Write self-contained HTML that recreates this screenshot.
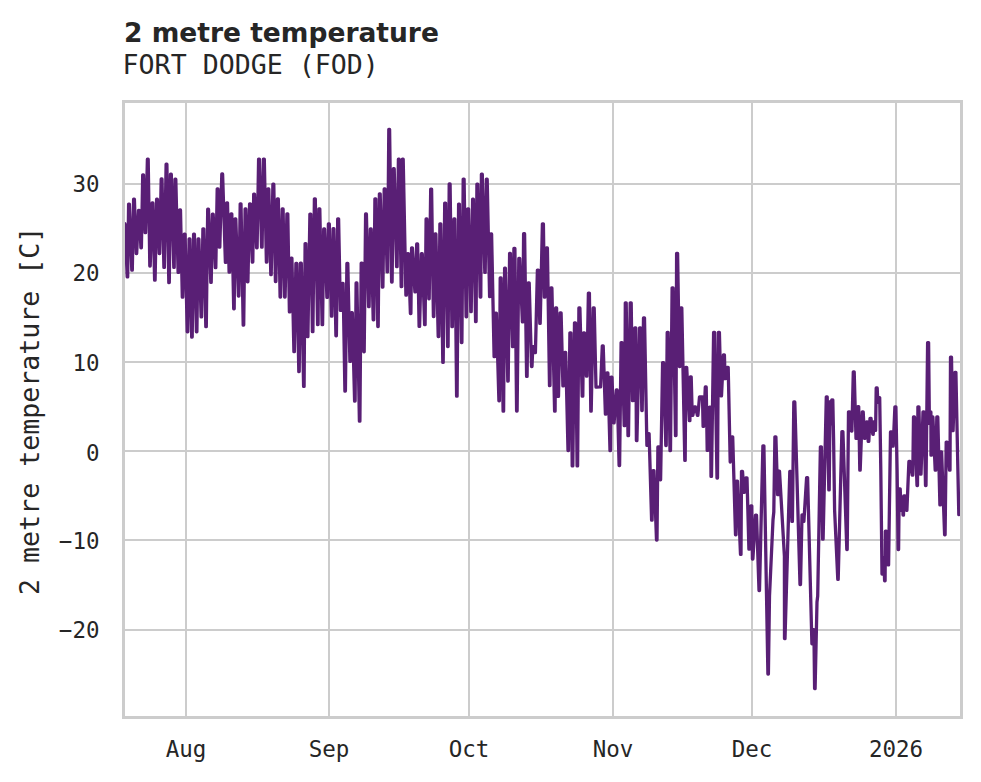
<!DOCTYPE html>
<html lang="en"><head><meta charset="utf-8"><title>2 metre temperature - FORT DODGE (FOD)</title>
<style>
html,body{margin:0;padding:0;background:#fff;}
body{width:981px;height:782px;overflow:hidden;}
svg{display:block;}
</style></head><body>
<svg width="981" height="782" viewBox="0 0 981 782">
<rect width="981" height="782" fill="#ffffff"/>
<g stroke="#cccccc" stroke-width="2" stroke-linecap="butt" fill="none">
<line x1="186.0" y1="101.5" x2="186.0" y2="717.5"/>
<line x1="329.0" y1="101.5" x2="329.0" y2="717.5"/>
<line x1="469.0" y1="101.5" x2="469.0" y2="717.5"/>
<line x1="613.0" y1="101.5" x2="613.0" y2="717.5"/>
<line x1="752.0" y1="101.5" x2="752.0" y2="717.5"/>
<line x1="896.0" y1="101.5" x2="896.0" y2="717.5"/>
<line x1="123.5" y1="184.0" x2="961.5" y2="184.0"/>
<line x1="123.5" y1="273.0" x2="961.5" y2="273.0"/>
<line x1="123.5" y1="362.0" x2="961.5" y2="362.0"/>
<line x1="123.5" y1="451.0" x2="961.5" y2="451.0"/>
<line x1="123.5" y1="540.0" x2="961.5" y2="540.0"/>
<line x1="123.5" y1="630.0" x2="961.5" y2="630.0"/>
</g>
<clipPath id="c"><rect x="123.5" y="101.5" width="838.0" height="616.0"/></clipPath>
<polyline clip-path="url(#c)" points="123.5,240.0 124.1,223.7 125.0,223.7 127.2,276.9 127.7,276.9 128.6,204.1 129.4,204.1 131.8,270.1 132.3,270.1 133.6,199.2 134.4,199.2 136.2,253.5 136.7,253.5 138.5,210.3 139.3,210.3 140.9,247.8 141.4,247.8 142.7,174.8 143.5,174.8 145.1,232.7 145.6,232.7 147.4,159.2 148.2,159.2 149.8,266.0 150.2,266.0 152.1,203.0 152.9,203.0 154.6,280.1 155.1,280.1 156.6,199.2 157.4,199.2 159.2,253.5 159.7,253.5 161.2,179.0 162.0,179.0 163.9,267.4 164.4,267.4 166.1,164.2 166.9,164.2 168.8,282.6 169.3,282.6 170.5,174.2 171.3,174.2 173.8,267.4 174.2,267.4 175.0,179.2 175.8,179.2 178.1,272.4 178.6,272.4 179.7,210.0 180.5,210.0 182.3,297.2 182.8,297.2 184.2,234.2 185.1,234.2 187.2,331.8 187.8,331.8 189.1,239.0 189.9,239.0 191.7,337.1 192.2,337.1 193.6,234.2 194.4,234.2 196.4,331.8 196.9,331.8 198.1,239.0 198.9,239.0 201.1,316.9 201.6,316.9 202.9,228.8 203.8,228.8 205.8,326.7 206.3,326.7 207.7,209.2 208.5,209.2 210.8,282.4 211.2,282.4 212.4,214.2 213.2,214.2 215.3,267.6 215.8,267.6 217.2,188.8 218.0,188.8 219.3,247.2 219.8,247.2 221.8,174.0 222.6,174.0 225.4,262.4 225.9,262.4 226.7,202.8 227.5,202.8 229.1,272.1 229.6,272.1 231.0,213.8 231.8,213.8 233.7,308.8 234.2,308.8 235.0,219.0 235.8,219.0 238.4,296.0 238.9,296.0 240.2,203.8 241.0,203.8 243.2,325.1 243.7,325.1 245.1,209.0 245.9,209.0 247.4,281.8 247.9,281.8 249.6,203.8 250.4,203.8 252.3,262.1 252.8,262.1 253.7,194.1 254.5,194.1 256.6,247.8 257.1,247.8 258.6,159.1 259.4,159.1 261.6,247.2 262.1,247.2 263.4,159.1 264.3,159.1 266.4,262.1 266.9,262.1 267.9,189.0 268.8,189.0 270.8,274.7 271.2,274.7 272.9,184.2 273.8,184.2 275.4,281.5 275.9,281.5 277.4,198.8 278.3,198.8 280.1,297.0 280.6,297.0 282.2,209.0 283.1,209.0 284.6,297.0 285.1,297.0 286.9,213.8 287.8,213.8 289.4,311.9 289.9,311.9 291.1,258.1 291.9,258.1 293.9,351.6 294.4,351.6 295.9,263.5 296.8,263.5 298.8,371.6 299.2,371.6 300.4,263.2 301.3,263.2 303.6,386.4 304.1,386.4 305.1,243.6 305.9,243.6 307.4,336.6 307.9,336.6 309.9,214.1 310.8,214.1 312.4,331.7 312.9,331.7 314.4,198.8 315.3,198.8 317.6,324.6 318.1,324.6 318.9,208.8 319.8,208.8 322.1,324.7 322.6,324.7 323.7,229.0 324.6,229.0 326.9,297.4 327.4,297.4 328.4,223.8 329.3,223.8 331.4,316.2 331.9,316.2 333.1,228.7 333.9,228.7 335.9,335.8 336.4,335.8 337.7,218.8 338.6,218.8 340.4,310.4 340.9,310.4 342.2,283.4 343.1,283.4 344.9,391.1 345.4,391.1 346.9,263.4 347.8,263.4 349.9,361.4 350.4,361.4 351.4,312.6 352.3,312.6 354.6,401.1 355.1,401.1 356.1,283.0 356.9,283.0 359.4,421.2 359.9,421.2 361.2,263.2 362.1,263.2 363.8,351.8 364.2,351.8 365.6,214.0 366.4,214.0 368.6,306.6 369.1,306.6 370.4,229.0 371.2,229.0 373.2,319.8 373.8,319.8 374.9,198.8 375.8,198.8 377.8,326.5 378.2,326.5 379.4,193.8 380.2,193.8 382.4,287.1 382.9,287.1 384.2,189.0 385.1,189.0 387.1,271.8 387.6,271.8 388.8,129.3 389.6,129.3 391.6,282.0 392.1,282.0 393.4,168.7 394.2,168.7 396.6,266.7 397.1,266.7 398.4,159.2 399.2,159.2 401.2,286.6 401.8,286.6 402.4,159.2 403.2,159.2 405.9,295.2 406.4,295.2 407.6,253.6 408.4,253.6 410.4,313.5 410.9,313.5 411.6,247.8 412.4,247.8 414.9,291.9 415.4,291.9 416.7,244.0 417.6,244.0 419.1,326.4 419.6,326.4 421.4,253.7 422.3,253.7 424.6,324.7 425.1,324.7 426.1,219.0 426.9,219.0 428.8,298.8 429.2,298.8 430.7,189.1 431.6,189.1 433.4,316.5 433.9,316.5 435.1,234.0 435.9,234.0 438.2,336.5 438.8,336.5 439.9,223.8 440.8,223.8 442.8,362.4 443.2,362.4 444.7,203.1 445.6,203.1 447.6,346.5 448.1,346.5 449.2,184.0 450.1,184.0 451.9,326.7 452.4,326.7 453.9,219.0 454.8,219.0 456.6,396.2 457.1,396.2 458.6,204.1 459.4,204.1 461.4,342.6 461.9,342.6 463.2,179.1 464.1,179.1 466.1,316.8 466.6,316.8 467.7,208.8 468.6,208.8 470.8,311.7 471.2,311.7 472.6,199.2 473.4,199.2 475.6,321.6 476.1,321.6 476.9,184.2 477.8,184.2 480.2,297.0 480.8,297.0 481.4,174.2 482.3,174.2 484.8,272.4 485.2,272.4 486.4,179.2 487.2,179.2 489.6,296.6 490.1,296.6 490.7,234.0 491.6,234.0 494.1,356.6 494.6,356.6 495.6,313.1 496.4,313.1 498.9,400.8 499.4,400.8 500.2,278.0 501.1,278.0 503.1,411.2 503.6,411.2 504.6,268.2 505.4,268.2 507.8,381.1 508.2,381.1 509.6,253.3 510.4,253.3 512.5,346.7 513.0,346.7 513.9,248.5 514.9,248.5 516.6,411.0 517.1,411.0 518.8,258.4 519.7,258.4 522.4,321.9 522.9,321.9 523.6,233.7 524.6,233.7 526.6,376.4 527.1,376.4 528.2,282.9 529.2,282.9 531.5,366.5 532.0,366.5 532.8,346.6 533.8,346.6 534.9,352.7 535.4,352.7 537.4,270.1 538.4,270.1 539.8,323.4 540.2,323.4 542.4,223.8 543.4,223.8 544.4,297.2 544.9,297.2 546.4,248.0 547.4,248.0 549.5,385.6 550.0,385.6 550.9,288.0 551.9,288.0 554.6,411.2 555.1,411.2 555.6,308.0 556.6,308.0 558.0,396.4 558.5,396.4 560.1,312.8 561.1,312.8 562.9,385.9 563.4,385.9 564.8,352.5 565.7,352.5 568.0,450.5 568.5,450.5 569.9,332.8 570.9,332.8 572.2,465.9 572.8,465.9 574.5,322.8 575.5,322.8 577.1,465.9 577.6,465.9 578.9,308.0 579.9,308.0 582.2,396.2 582.8,396.2 583.5,332.8 584.5,332.8 586.4,376.2 586.9,376.2 588.4,293.1 589.4,293.1 590.8,411.2 591.2,411.2 593.2,308.0 594.2,308.0 596.0,387.2 596.5,387.2 600.1,386.9 600.6,386.9 602.3,345.8 603.2,345.8 605.4,414.2 605.9,414.2 606.9,373.0 607.9,373.0 610.0,450.6 610.5,450.6 611.0,377.2 612.0,377.2 613.6,422.8 614.1,422.8 616.3,390.0 617.2,390.0 619.1,465.5 619.6,465.5 621.1,342.6 622.1,342.6 624.2,425.7 624.8,425.7 625.3,302.8 626.2,302.8 628.0,435.7 628.5,435.7 630.2,302.8 631.2,302.8 632.5,400.7 633.0,400.7 634.8,327.8 635.8,327.8 636.4,440.6 636.9,440.6 639.6,327.8 640.6,327.8 641.8,410.6 642.2,410.6 643.5,317.9 644.5,317.9 646.9,445.4 647.4,445.4 648.1,433.6 649.1,433.6 651.6,520.1 652.1,520.1 653.0,470.6 654.0,470.6 656.5,540.0 657.0,540.0 657.9,447.0 658.9,447.0 660.1,479.8 660.6,479.8 662.6,362.6 663.6,362.6 665.8,445.5 666.2,445.5 667.2,332.4 668.2,332.4 670.0,450.6 670.5,450.6 672.1,287.8 673.1,287.8 675.5,435.6 676.0,435.6 676.6,253.3 677.6,253.3 679.4,366.5 679.9,366.5 680.8,307.8 681.8,307.8 684.8,460.4 685.2,460.4 685.8,367.4 686.7,367.4 689.4,420.7 689.9,420.7 690.3,376.8 691.2,376.8 692.2,415.4 692.8,415.4 694.5,407.0 695.5,407.0 697.4,415.4 697.9,415.4 699.5,396.8 700.5,396.8 701.5,396.8 702.5,396.8 703.1,426.4 703.6,426.4 705.3,387.0 706.2,387.0 707.2,450.4 707.8,450.4 709.5,407.1 710.5,407.1 711.0,476.4 711.5,476.4 713.6,332.3 714.6,332.3 717.0,478.0 717.5,478.0 718.4,332.3 719.4,332.3 721.0,395.9 721.5,395.9 723.4,354.8 724.4,354.8 725.1,378.7 725.6,378.7 727.2,367.4 728.2,367.4 730.2,462.0 731.2,445.0 731.8,436.8 732.7,436.8 735.5,534.8 736.0,534.8 736.5,481.1 737.5,481.1 740.5,554.4 741.0,554.4 741.5,471.3 742.5,471.3 744.0,492.4 744.5,492.4 746.0,477.8 747.0,477.8 748.9,549.2 749.4,549.2 750.8,505.8 751.8,505.8 752.4,559.0 752.9,559.0 755.5,515.1 756.5,515.1 759.0,590.5 759.5,590.5 762.9,445.9 763.9,445.9 767.9,674.0 768.4,674.0 769.5,596.0 773.0,520.0 773.8,512.0 774.9,436.8 775.9,436.8 777.6,494.7 778.1,494.7 778.5,471.2 779.5,471.2 784.4,556.0 784.5,638.6 785.0,638.6 789.8,471.4 790.7,471.4 791.9,521.4 792.4,521.4 793.8,402.0 794.8,402.0 800.0,584.5 800.5,584.5 802.0,514.9 803.0,514.9 803.4,521.4 803.9,521.4 806.6,477.6 807.6,477.6 811.9,643.8 812.4,643.8 812.9,629.6 813.9,629.6 814.6,688.6 815.1,688.6 817.0,602.0 817.7,596.0 820.4,446.8 821.4,446.8 822.6,539.2 823.1,539.2 826.3,396.9 827.2,396.9 828.8,489.9 829.2,489.9 830.1,401.6 831.1,401.6 831.4,423.8 831.8,399.9 831.9,423.8 832.8,399.9 833.6,440.0 834.6,510.0 837.8,579.4 838.2,579.4 841.9,431.6 842.9,431.6 846.8,549.5 847.2,549.5 848.5,411.8 849.5,411.8 851.4,431.0 851.9,431.0 853.3,371.8 854.2,371.8 856.0,438.4 856.5,438.4 857.8,406.6 858.7,406.6 859.8,470.2 860.2,470.2 862.3,411.8 863.2,411.8 864.5,438.4 865.0,438.4 866.4,421.9 867.4,421.9 868.2,441.4 868.8,441.4 870.0,418.3 871.0,418.3 872.8,434.4 873.2,434.4 874.1,421.6 875.1,421.6 875.1,430.4 875.6,430.4 876.2,388.0 877.2,388.0 877.8,402.4 878.2,402.4 878.8,397.6 879.7,397.6 880.8,470.0 882.0,574.1 882.5,574.1 882.9,557.6 883.9,557.6 884.6,580.8 885.1,580.8 885.4,531.2 886.4,531.2 888.1,564.9 888.6,564.9 890.5,431.9 891.5,431.9 892.8,446.1 893.2,446.1 894.9,406.8 895.9,406.8 897.1,470.0 898.1,549.6 898.6,549.6 899.2,488.8 900.2,488.8 901.0,510.4 901.5,510.4 901.8,498.6 902.8,498.6 903.0,515.1 903.5,515.1 903.8,495.9 904.8,495.9 906.4,510.4 906.9,510.4 908.9,461.5 909.9,461.5 912.2,475.2 912.8,475.2 913.5,417.0 914.5,417.0 917.0,485.5 917.5,485.5 917.9,406.8 918.9,406.8 920.5,474.2 921.0,474.2 923.0,411.9 924.0,411.9 925.5,485.5 926.0,485.5 927.6,342.6 928.6,342.6 929.4,423.4 929.9,423.4 929.9,411.9 930.9,411.9 931.0,455.2 931.5,455.2 931.9,417.0 932.9,417.0 935.2,470.2 935.8,470.2 936.8,417.0 937.8,417.0 939.9,504.9 940.4,504.9 940.6,451.8 941.6,451.8 944.6,534.8 945.1,534.8 946.2,442.1 947.2,442.1 949.5,470.2 950.0,470.2 950.5,357.2 951.5,357.2 952.6,430.7 953.1,430.7 954.9,372.3 955.9,372.3 958.8,514.6 959.2,514.6" fill="none" stroke="#591f75" stroke-width="3.3" stroke-linejoin="round" stroke-linecap="round"/>
<rect x="123.5" y="101.5" width="838.0" height="616.0" fill="none" stroke="#cccccc" stroke-width="3"/>
<g font-family="'DejaVu Sans Mono', 'Liberation Mono', monospace" font-size="22.5" fill="#262626">
<text x="186.0" y="757" text-anchor="middle">Aug</text>
<text x="329.0" y="757" text-anchor="middle">Sep</text>
<text x="469.0" y="757" text-anchor="middle">Oct</text>
<text x="613.0" y="757" text-anchor="middle">Nov</text>
<text x="752.0" y="757" text-anchor="middle">Dec</text>
<text x="896.0" y="757" text-anchor="middle">2026</text>
<text x="99.5" y="192.15" text-anchor="end">30</text>
<text x="99.5" y="281.4" text-anchor="end">20</text>
<text x="99.5" y="370.65" text-anchor="end">10</text>
<text x="99.5" y="461.0" text-anchor="end">0</text>
<text x="99.5" y="549.1" text-anchor="end">−10</text>
<text x="99.5" y="638.35" text-anchor="end">−20</text>
</g>
<text transform="translate(38.7,410.8) rotate(-90)" text-anchor="middle" font-family="'DejaVu Sans Mono', 'Liberation Mono', monospace" font-size="26.6" fill="#262626">2 metre temperature [C]</text>
<text x="124" y="42" font-family="'DejaVu Sans', 'Liberation Sans', sans-serif" font-weight="bold" font-size="26.5" fill="#262626">2 metre temperature</text>
<text x="122.6" y="74" font-family="'DejaVu Sans Mono', 'Liberation Mono', monospace" font-size="26.6" fill="#262626">FORT DODGE (FOD)</text>
</svg>
</body></html>
